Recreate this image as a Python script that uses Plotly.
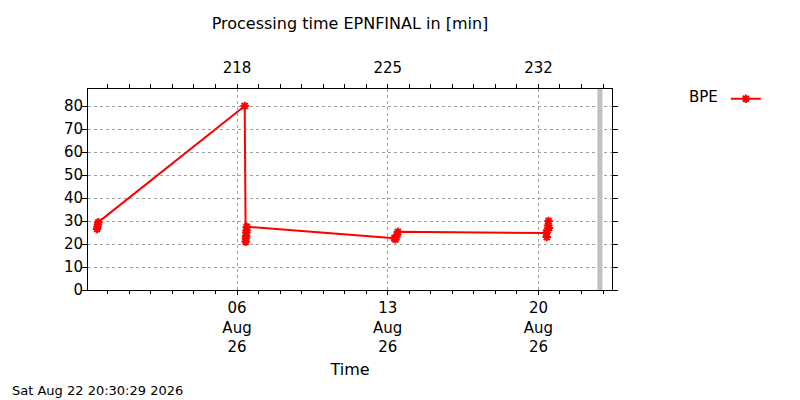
import pandas as pd
import plotly.graph_objs as go

# BPE processing time samples (minutes)
times = ["2026-07-30 12:00", "2026-07-30 12:30", "2026-07-30 13:00", "2026-07-30 13:30",
         "2026-08-06 08:35",
         "2026-08-06 09:40", "2026-08-06 09:55", "2026-08-06 10:10", "2026-08-06 10:25",
         "2026-08-06 10:40", "2026-08-06 10:50",
         "2026-08-13 07:30", "2026-08-13 08:30", "2026-08-13 09:30", "2026-08-13 10:30",
         "2026-08-13 11:20",
         "2026-08-20 08:35", "2026-08-20 09:20", "2026-08-20 10:00", "2026-08-20 10:40",
         "2026-08-20 11:20", "2026-08-20 11:50"]
values = [26.5, 27.5, 28.5, 29.5,
          80.0,
          21.0, 22.5, 23.5, 25.0, 26.0, 27.5,
          22.5, 22.0, 23.0, 24.0, 25.3,
          24.8, 23.0, 26.0, 28.0, 30.0, 27.0]

series_name = "BPE"
major_ticks = ["2026-08-06", "2026-08-13", "2026-08-20"]
x_range = ["2026-07-30 01:54", "2026-08-23 10:00"]
y_range = [0, 87.4]
now_stamp = "2026-08-22 20:30:29"

major = pd.to_datetime(major_ticks)
bottom_text = [d.strftime("%d<br>%b<br>%y") for d in major]
top_text = [str(d.dayofyear) for d in major]
now = pd.to_datetime(now_stamp)

font = "DejaVu Sans"
day_ms = 86400000

# page body has an 8px margin, so the figure is sized to fit the window
W, H = 792, 392
L, T, R, B = 80, 81, 188, 110
pw, ph = W - L - R, H - T - B

trace = go.Scatter(
    x=pd.to_datetime(times),
    y=values,
    mode='lines+markers',
    name='',
    showlegend=True,
    line=dict(color='#ff0000', width=2),
    marker=dict(symbol='asterisk-open', size=7, color='#ff0000',
                line=dict(color='#ff0000', width=2)),
    hovertemplate='%{x}<br>%{y}<extra>' + series_name + '</extra>',
)

# same samples on the day-of-year axis (top), not drawn
trace_top = go.Scatter(
    x=pd.to_datetime(times),
    y=values,
    xaxis='x2',
    mode='none',
    showlegend=False,
    hoverinfo='skip',
)

layout = go.Layout(
    width=W, height=H,
    paper_bgcolor='white',
    plot_bgcolor='white',
    font=dict(family=font, size=15, color='black'),
    margin=dict(l=L, r=R, t=T, b=B, autoexpand=False),
    title=dict(text='Processing time EPNFINAL in [min]',
               x=0.5, xref='paper', xanchor='center',
               y=1 - 15 / H, yref='container', yanchor='middle',
               font=dict(size=16)),
    xaxis=dict(type='date', range=x_range, autorange=False,
               tickmode='array', tickvals=major, ticktext=bottom_text,
               ticks='outside', ticklen=4, tickcolor='black',
               minor=dict(ticks='outside', ticklen=3, tick0='2026-07-30',
                          dtick=day_ms, tickcolor='black', showgrid=False),
               showline=True, linecolor='black', linewidth=1, mirror=True,
               showgrid=True, gridcolor='#a0a0a0', griddash='3px,3px', gridwidth=1,
               zeroline=False, automargin=False,
               title=dict(text='Time', standoff=8, font=dict(size=16))),
    xaxis2=dict(type='date', range=x_range, autorange=False, overlaying='x',
                side='top', anchor='y',
                tickmode='array', tickvals=major, ticktext=top_text,
                ticks='outside', ticklen=4, tickcolor='black',
                minor=dict(ticks='outside', ticklen=4, tick0='2026-07-30',
                           dtick=day_ms, tickcolor='black', showgrid=False),
                showline=False, showgrid=False, zeroline=False,
                automargin=False, ticklabelstandoff=5),
    yaxis=dict(range=y_range, autorange=False, dtick=10, tick0=0,
               ticks='outside', ticklen=5, tickcolor='black',
               showline=True, linecolor='black', linewidth=1, mirror='ticks',
               showgrid=True, gridcolor='#a0a0a0', griddash='3px,3px', gridwidth=1,
               zeroline=False, automargin=False, ticklabelstandoff=-4),
    legend=dict(x=(687 - 88) / pw, y=(290 - 99) / ph, xanchor='left', yanchor='middle',
                title=dict(text=series_name, side='left', font=dict(size=15)),
                bgcolor='rgba(0,0,0,0)', font=dict(size=15)),
    shapes=[dict(type='line', xref='x', yref='paper', x0=now, x1=now, y0=0, y1=1,
                 line=dict(color='#c0c0c0', width=5))],
    annotations=[dict(text=now.strftime('%a %b %d %H:%M:%S %Y'),
                      xref='paper', yref='paper',
                      x=(10 - 88) / pw, y=(290 - 390) / ph,
                      xanchor='left', yanchor='middle', showarrow=False,
                      font=dict(size=13))],
)

fig = go.Figure(data=[trace, trace_top], layout=layout)
fig.write_html("out.html")
